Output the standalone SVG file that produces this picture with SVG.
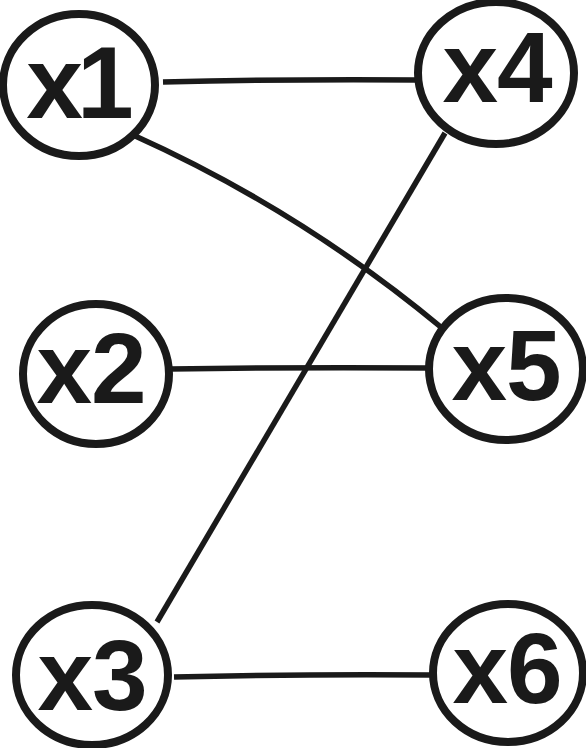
<svg xmlns="http://www.w3.org/2000/svg" width="586" height="748" viewBox="0 0 586 748">
<style>
.node ellipse{fill:#fff;stroke:#1a1a1a;stroke-width:8}
.node text{font-family:"Liberation Sans",Arial,sans-serif;font-weight:bold;font-size:100px;letter-spacing:-1px;fill:#1a1a1a;text-anchor:middle}
#edges path{fill:none;stroke:#1a1a1a;stroke-width:5.5;stroke-linecap:butt}
</style>
<rect width="586" height="748" fill="#fff"/>
<g id="edges">
<path d="M163,82 Q290,79 417,80"/>
<path d="M133,135 Q300,210 442,328"/>
<path d="M445,133 L157,622"/>
<path d="M170,369 Q300,367 430,368"/>
<path d="M174,677 Q300,674 432,675"/>
</g>
<g id="x1" class="node"><ellipse cx="79" cy="85" rx="76" ry="71"/><text x="77" y="118" style="font-size:102px;letter-spacing:-6px">x1</text></g>
<g id="x4" class="node"><ellipse cx="496" cy="73" rx="78" ry="71"/><text x="497" y="102">x4</text></g>
<g id="x2" class="node"><ellipse cx="96" cy="374" rx="73" ry="70"/><text x="91" y="403">x2</text></g>
<g id="x5" class="node"><ellipse cx="506" cy="369" rx="77" ry="71"/><text x="506" y="400">x5</text></g>
<g id="x3" class="node"><ellipse cx="92" cy="675" rx="76" ry="70"/><text x="92" y="710">x3</text></g>
<g id="x6" class="node"><ellipse cx="508" cy="673" rx="75" ry="69"/><text x="507" y="703">x6</text></g>
</svg>
